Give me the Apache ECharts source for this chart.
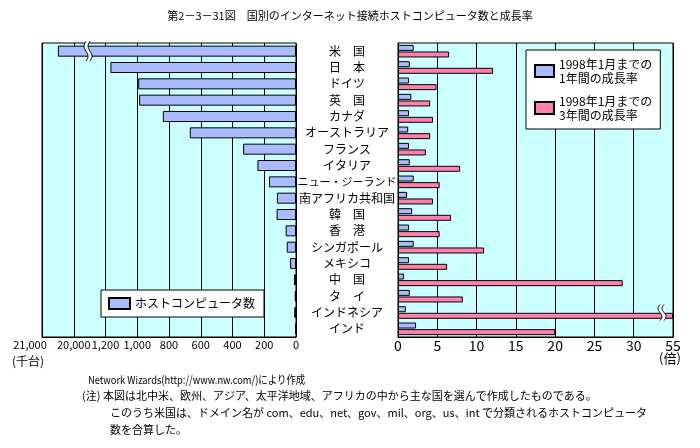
<!DOCTYPE html>
<html><head><meta charset="utf-8">
<script src="https://cdn.jsdelivr.net/npm/echarts@6/dist/echarts.min.js"></script>
<style>html,body{margin:0;padding:0;background:#fff}#c{width:700px;height:448px}</style>
</head><body><div id="c"></div>
<script>
const categories = ['米　国','日　本','ドイツ','英　国','カナダ','オーストラリア','フランス','イタリア','ニュー・ジーランド','南アフリカ共和国','韓　国','香　港','シンガポール','メキシコ','中　国','タ　イ','インドネシア','インド'];
// ホストコンピュータ数 (千台), 1998年1月
const hosts = [20500, 1169, 994, 988, 839, 669, 333, 243, 170, 120, 122, 65, 58, 37, 13, 8, 11, 6];
// 成長率 (倍)
const growth1y = [2.0, 1.5, 1.4, 1.7, 1.4, 1.3, 1.4, 1.5, 2.0, 1.15, 1.8, 1.4, 2.0, 1.4, 0.75, 1.5, 1.0, 2.3];
const growth3y = [6.5, 12.1, 4.9, 4.1, 4.45, 4.1, 3.55, 7.9, 5.3, 4.45, 6.75, 5.3, 10.95, 6.25, 28.6, 8.25, 55, 20.0];
const leftTickLabels = ['0','200','400','600','800','1,000','1,200','20,000','21,000'];
const rightTickLabels = ['0','5','10','15','20','25','30','55'];
const hostsName = 'ホストコンピュータ数';
const g1Name = '1998年1月までの\n1年間の成長率';
const g3Name = '1998年1月までの\n3年間の成長率';

// broken-axis mappings
function leftPos(v){ return v <= 1200 ? v/200 : (v <= 20000 ? 6 + (v-1200)/18800 : 7 + (v-20000)/1000); }
function rightPos(v){ return v <= 30 ? v/5 : 6 + (v-30)/25; }

const FONT = '"Noto Sans CJK JP", sans-serif';
const BLUE = '#AABBFF', PINK = '#FF80A8', BG = '#CCFFFF';

const chart = echarts.init(document.getElementById('c'), null, {renderer:'canvas'});
const gridTop = 43, gridH = 294;
const option = {
  animation: false,
  textStyle: {fontFamily: FONT, color:'#000'},
  grid: [
    {left: 42, width: 254, top: gridTop, height: gridH, show: true, backgroundColor: BG, borderColor: '#000', borderWidth: 1},
    {left: 398, width: 275, top: gridTop, height: gridH, show: true, backgroundColor: BG, borderColor: '#000', borderWidth: 1}
  ],
  xAxis: [
    {type:'value', gridIndex:0, inverse:true, min:0, max:8, interval:1,
     axisLine:{show:true, lineStyle:{color:'#000'}}, axisTick:{show:false},
     splitLine:{show:true, lineStyle:{color:'#000', width:1}},
     axisLabel:{margin:2, fontSize:11, color:'#000', fontFamily:FONT,
       formatter: v => v === 8 ? '{s|' + leftTickLabels[v] + '}' : leftTickLabels[v],
       rich:{s:{fontSize:11, fontFamily:FONT, color:'#000', padding:[0,24,0,0]}}}},
    {type:'value', gridIndex:1, min:0, max:7, interval:1,
     axisLine:{show:true, lineStyle:{color:'#000'}}, axisTick:{show:false},
     splitLine:{show:true, lineStyle:{color:'#000', width:1}},
     axisLabel:{margin:2, fontSize:14, color:'#000', fontFamily:FONT, formatter: v => rightTickLabels[v]}}
  ],
  yAxis: [
    {type:'category', gridIndex:0, data:categories, inverse:true, position:'right',
     axisLine:{show:false}, axisTick:{show:false}, axisLabel:{show:false}, splitLine:{show:false}},
    {type:'category', gridIndex:1, data:categories, inverse:true,
     axisLine:{show:true, lineStyle:{color:'#000'}}, axisTick:{show:false}, splitLine:{show:false},
     axisLabel:{margin:51, align:'center', fontSize:12, color:'#000', fontFamily:FONT,
       formatter: s => s.length > 8 ? '{n|' + s + '}' : s,
       rich:{n:{fontSize:11, fontFamily:FONT, color:'#000'}}}}
  ],
  legend: [
    {data:[hostsName], left:101, top:290, orient:'horizontal', padding:[7,9,7,7],
     itemWidth:21, itemHeight:11, itemGap:8, backgroundColor:'#fff', borderColor:'#000', borderWidth:1, borderRadius:0,
     textStyle:{fontSize:12, fontFamily:FONT, color:'#000'}, icon:'rect', selectedMode:false},
    {data:[g1Name, g3Name], left:526, top:50, orient:'vertical', padding:[7,8,7,8],
     itemWidth:19, itemHeight:12, itemGap:9, backgroundColor:'#fff', borderColor:'#000', borderWidth:1, borderRadius:0,
     textStyle:{fontSize:12, lineHeight:14, fontFamily:FONT, color:'#000'}, icon:'rect', selectedMode:false}
  ],
  series: [
    {name:hostsName, type:'bar', xAxisIndex:0, yAxisIndex:0, barWidth:11,
     itemStyle:{color:BLUE, borderColor:'#000', borderWidth:1},
     data: hosts.map(leftPos)},
    {name:g1Name, type:'bar', xAxisIndex:1, yAxisIndex:1, barWidth:6, barGap:'10%',
     itemStyle:{color:BLUE, borderColor:'#000', borderWidth:1},
     data: growth1y.map(rightPos)},
    {name:g3Name, type:'bar', xAxisIndex:1, yAxisIndex:1, barWidth:6, barGap:'10%',
     itemStyle:{color:PINK, borderColor:'#000', borderWidth:1},
     data: growth3y.map(v => Math.min(rightPos(v), 7))}
  ]
};
chart.setOption(option);

// break marks
function breakMark(cx, y0, y1){
  const n = 16, amp = 2, gap = 4, L = [], R = [], poly = [];
  for (let i = 0; i <= n; i++){
    const t = i/n, y = y0 + (y1-y0)*t;
    const dx = -amp*Math.sin(2*Math.PI*t);
    L.push([cx - gap/2 + dx, y]); R.push([cx + gap/2 + dx, y]);
  }
  for (const p of L) poly.push(p);
  for (let i = R.length-1; i >= 0; i--) poly.push(R[i]);
  return [
    {type:'polygon', shape:{points:poly}, style:{fill:'#fff', stroke:null}, z:100},
    {type:'polyline', shape:{points:L}, style:{stroke:'#000', lineWidth:1, fill:null}, z:101},
    {type:'polyline', shape:{points:R}, style:{stroke:'#000', lineWidth:1, fill:null}, z:101}
  ];
}
const bL = chart.convertToPixel({xAxisIndex:0, yAxisIndex:0}, [6.55, 0]);
const bR = chart.convertToPixel({xAxisIndex:1, yAxisIndex:1}, [6.72, 16]);

const txt = (x, y, s, size, sx) => ({type:'text', left:x, top:y, z:110, scaleX: sx || 1,
  style:{text:s, fontSize:size||12, fontFamily:FONT, fill:'#000'}});

chart.setOption({graphic: [].concat(
  breakMark(bL[0], bL[1]-10, bL[1]+10),
  breakMark(bR[0], bR[1]-8, bR[1]+8),
  [
    {type:'text', left:'center', top:10, style:{text:'第2－3－31図　国別のインターネット接続ホストコンピュータ数と成長率', fontSize:11, fontFamily:FONT, fill:'#000'}},
    txt(12, 355, '(千台)', 12),
    txt(659, 352, '(倍)', 13),
    txt(88, 374, 'Network Wizards(http://www.nw.com/)により作成', 11, 0.85),
    txt(82, 390, '(注) 本図は北中米、欧州、アジア、太平洋地域、アフリカの中から主な国を選んで作成したものである。', 11),
    txt(110, 407, 'このうち米国は、ドメイン名が com、edu、net、gov、mil、org、us、int で分類されるホストコンピュータ', 11),
    txt(110, 424, '数を合算した。', 11)
  ])});
</script>
</body></html>
